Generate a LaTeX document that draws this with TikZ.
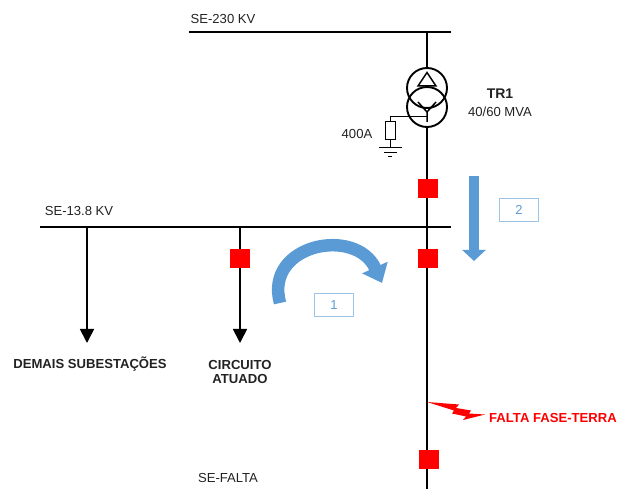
\documentclass[tikz,border=0pt]{standalone}
\usepackage{fontspec}
\setmainfont{Liberation Sans}
\usetikzlibrary{arrows.meta}
\definecolor{ablue}{HTML}{5B9BD5}
\definecolor{boxblue}{HTML}{9DC3E6}
\definecolor{txt}{HTML}{222222}
\begin{document}
\begin{tikzpicture}[x=1pt,y=-1pt,
  bus/.style={line width=2.2pt},
  wire/.style={line width=1.9pt},
  brk/.style={fill=red, draw=none, minimum width=20pt, minimum height=19pt, inner sep=0pt},
  lbl/.style={font=\fontsize{13.1}{15}\selectfont, inner sep=0pt, text=txt},
  blbl/.style={font=\fontsize{13.1}{15}\selectfont\bfseries, inner sep=0pt, text=txt, align=center},
  feed/.style={line width=1.7pt, -{Triangle[length=14pt,width=14pt]}},
  nbox/.style={draw=boxblue, line width=1pt, minimum width=39pt, minimum height=23pt, inner sep=0pt, text=ablue, font=\fontsize{13}{15}\selectfont},
  winding/.style={circle, draw, line width=1.9pt, minimum size=40pt, inner sep=0pt},
  sym/.style={line width=1.5pt}
]
\useasboundingbox (0,0) rectangle (619,489);

% 230 kV bus
\coordinate (hvL) at (189,32);
\coordinate (hvR) at (451,32);
\coordinate (hvT) at (427,32);
\draw[bus] (hvL) -- (hvR);
\node[lbl] (hvlab) at (223,19) {SE-230 KV};

% transformer
\node[winding] (tA) at (427,88) {};
\node[winding] (tY) at (427,107) {};
\draw[wire] (hvT) -- (tA.north);
\draw[sym] (427,72.5) -- (436,86) -- (418,86) -- cycle;
\draw[sym] (418,102) -- (427,112) -- (436,102) (427,112) -- (427,122);
\node[blbl, font=\fontsize{14}{16}\selectfont\bfseries] (trname) at (500,94) {TR1};
\node[lbl] (trpow) at (500,112) {40/60 MVA};

% neutral grounding resistor
\coordinate (nY) at (427,117);
\coordinate (nC) at (390,117);
\node[draw, line width=1pt, minimum width=10pt, minimum height=18pt, inner sep=0pt] (res) at (390,131) {};
\coordinate (gnd) at (390,148);
\draw[line width=1pt] (nY) -- (nC) -- (res.north);
\draw[line width=1pt] (res.south) -- (gnd);
\draw[line width=1pt] (379,148) -- (402,148);
\draw[line width=1pt] (384,152.5) -- (397,152.5);
\draw[line width=1pt] (388,157) -- (392,157);
\node[lbl] (rlab) at (357,134) {400A};

% main vertical line
\coordinate (mB) at (427,489);
\draw[wire] (tY.south) -- (mB);

% 13.8 kV bus
\coordinate (lvL) at (40,227);
\coordinate (lvR) at (451,227);
\draw[bus] (lvL) -- (lvR);
\node[lbl] (lvlab) at (79,211) {SE-13.8 KV};

% feeders
\coordinate (f1) at (87,227);
\coordinate (f1e) at (87,343);
\coordinate (f2) at (240,227);
\coordinate (f2e) at (240,343);
\draw[feed] (f1) -- (f1e);
\draw[feed] (f2) -- (f2e);
\node[blbl] (dem) at (90,364) {DEMAIS SUBESTAÇÕES};
\node[blbl] (cir) at (240,372) {CIRCUITO\\[-1pt]ATUADO};
\node[lbl] (sef) at (228,478) {SE-FALTA};

% breakers
\node[brk] (b1) at (428,189) {};
\node[brk] (b2) at (428,259) {};
\node[brk] (b3) at (429,459) {};
\node[brk] (b4) at (240,259) {};

% flow arrows
\draw[ablue, line width=10pt, -{Triangle[length=11pt,width=23pt]}] (474,176) -- (474,261);
\node[nbox] (n2) at (519,210) {2};
\draw[ablue, line width=12.5pt, -{Triangle[length=17pt,width=27pt]}] (280,303) .. controls (264,244) and (356,226) .. (382,283);
\node[nbox] (n1) at (334,305) {1};

% fault
\fill[red] (427,402) -- (459,404.5) -- (456,408) -- (471,410.5) -- (469,413.5) -- (485,414.5) -- (463,420) -- (466,416.5) -- (452,413.5) -- (454,410.5) -- cycle;
\node[blbl, text=red, anchor=west] (flt) at (489,418) {FALTA FASE-TERRA};
\end{tikzpicture}
\end{document}
